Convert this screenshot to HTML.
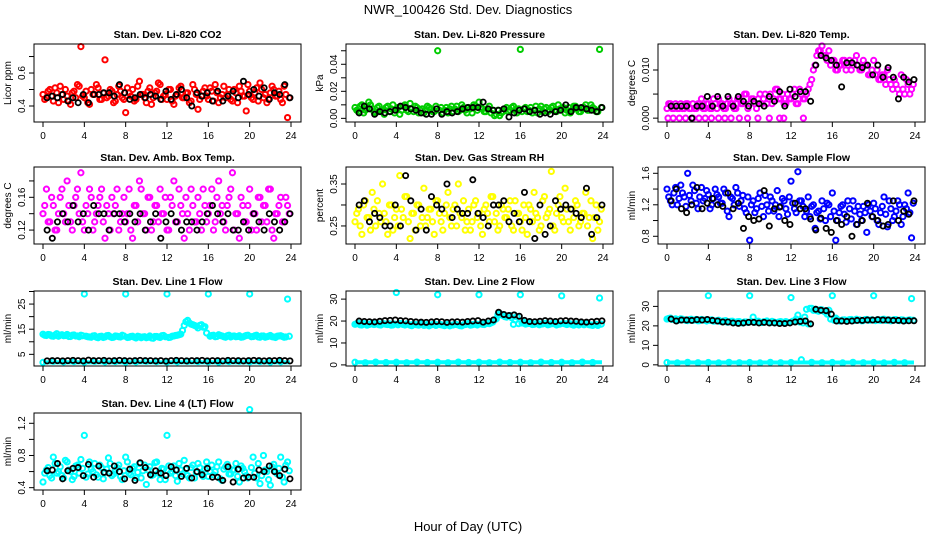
<!DOCTYPE html>
<html><head><meta charset="utf-8"><style>
html,body{margin:0;padding:0;background:#fff;width:936px;height:540px;overflow:hidden}
svg{display:block;font-family:"Liberation Sans",Arial,sans-serif}
</style></head><body>
<svg id="chart" width="936" height="540" viewBox="0 0 936 540">
<text x="468" y="14" text-anchor="middle" font-size="13">NWR_100426  Std. Dev. Diagnostics</text>
<text x="468" y="531" text-anchor="middle" font-size="13">Hour of Day (UTC)</text>
</svg>
<script>
const xTicks = [0,4,8,12,16,20,24];
const panelTitles = ["Stan. Dev. Li-820 CO2","Stan. Dev. Li-820 Pressure","Stan. Dev. Li-820 Temp.","Stan. Dev. Amb. Box Temp.","Stan. Dev. Gas Stream RH","Stan. Dev. Sample Flow","Stan. Dev. Line 1 Flow","Stan. Dev. Line 2 Flow","Stan. Dev. Line 3 Flow","Stan. Dev. Line 4 (LT) Flow"];
const yTitles = ["Licor ppm","kPa","degrees C","degrees C","percent","ml/min","ml/min","ml/min","ml/min","ml/min"];
const colors = ["#ff0000","#00cc00","#ff00ff","#ff00ff","#ffff00","#0000ff","#00ffff","#00ffff","#00ffff","#00ffff"];
const yLims = [[0.303,0.776],[-0.0027,0.055],[-0.0008,0.0154],[0.103,0.197],[0.207,0.3905],[0.702,1.68],[0.36,30.2],[-0.5,33.7],[-0.6,37.9],[0.371,1.328]];
const yTickVals = [[0.4,0.5,0.6,0.7],[0,0.01,0.02,0.03,0.04,0.05],[0,0.005,0.01],[0.12,0.14,0.16,0.18],[0.25,0.30,0.35],[0.8,1.0,1.2,1.4,1.6],[5,10,15,20,25,30],[0,10,20,30],[0,10,20,30],[0.4,0.6,0.8,1.0,1.2]];
const yTickLabels = [["0.4","","0.6",""],["0.00","","0.02","","0.04",""],["0.000","","0.010"],["0.12","","0.16",""],["0.25","","0.35"],["0.8","","1.2","","1.6"],["5","","15","","25",""],["0","10","20","30"],["0","10","20","30"],["0.4","","0.8","","1.2"]];

const co2Color = [0.47,0.45,0.50,0.43,0.48,0.52,0.44,0.46,0.41,0.49,0.53,0.76,0.45,0.42,0.50,0.47,0.51,0.44,0.68,0.46,0.49,0.43,0.52,0.45,0.36,0.48,0.50,0.44,0.55,0.47,0.42,0.51,0.45,0.49,0.53,0.46,0.44,0.50,0.41,0.47,0.52,0.45,0.48,0.43,0.50,0.38,0.46,0.51,0.44,0.49,0.53,0.42,0.47,0.45,0.50,0.43,0.48,0.52,0.46,0.37,0.49,0.44,0.51,0.54,0.45,0.42,0.48,0.50,0.46,0.44,0.52,0.33];
const co2ColorB = [0.44,0.49,0.46,0.51,0.42,0.47,0.50,0.43,0.48,0.45,0.52,0.46,0.49,0.41,0.47,0.53,0.44,0.48,0.45,0.50,0.42,0.47,0.49,0.44,0.51,0.46,0.43,0.52,0.47,0.45,0.49,0.41,0.48,0.54,0.44,0.47,0.50,0.43,0.46,0.51,0.45,0.48,0.42,0.53,0.47,0.44,0.49,0.46,0.51,0.43,0.48,0.45,0.52,0.47,0.44,0.50,0.42,0.49,0.46,0.53,0.45,0.48,0.43,0.50,0.47,0.44,0.52,0.46,0.49,0.42,0.47,0.45];
const co2Black = [0.45,0.46,0.45,0.47,0.43,0.45,0.42,0.47,0.42,0.47,0.47,0.48,0.48,0.46,0.53,0.48,0.44,0.45,0.47,0.45,0.47,0.46,0.44,0.49,0.44,0.47,0.50,0.45,0.40,0.48,0.46,0.48,0.43,0.49,0.43,0.46,0.49,0.45,0.55,0.47,0.50,0.46,0.51,0.44,0.48,0.47,0.53,0.45];
const presColor = [0.008,0.005,0.010,0.006,0.012,0.007,0.004,0.009,0.006,0.008,0.005,0.010,0.007,0.003,0.009,0.006,0.011,0.005,0.008,0.006,0.004,0.009,0.007,0.005,0.050,0.008,0.006,0.004,0.009,0.007,0.005,0.010,0.006,0.008,0.004,0.009,0.012,0.007,0.005,0.009,0.006,0.003,0.002,0.005,0.008,0.006,0.009,0.004,0.051,0.007,0.005,0.008,0.006,0.004,0.009,0.007,0.005,0.008,0.006,0.010,0.007,0.004,0.008,0.006,0.009,0.005,0.007,0.010,0.006,0.008,0.005,0.051];
const presColorB = [0.006,0.009,0.004,0.007,0.010,0.005,0.008,0.006,0.003,0.009,0.007,0.004,0.008,0.006,0.010,0.005,0.007,0.009,0.004,0.007,0.006,0.008,0.005,0.009,0.006,0.004,0.008,0.007,0.005,0.009,0.006,0.008,0.004,0.007,0.010,0.006,0.008,0.005,0.007,0.004,0.002,0.006,0.004,0.007,0.005,0.008,0.006,0.007,0.005,0.008,0.006,0.004,0.009,0.007,0.005,0.008,0.006,0.009,0.005,0.007,0.008,0.006,0.004,0.009,0.007,0.005,0.008,0.006,0.010,0.007,0.005,0.008];
const presBlack = [0.004,0.009,0.007,0.003,0.005,0.004,0.005,0.006,0.009,0.008,0.007,0.006,0.004,0.003,0.003,0.007,0.003,0.005,0.004,0.005,0.007,0.008,0.008,0.008,0.012,0.007,0.006,0.006,0.007,0.001,0.004,0.006,0.007,0.005,0.006,0.003,0.004,0.003,0.005,0.006,0.010,0.005,0.008,0.008,0.007,0.006,0.005,0.008];
const tempColor = [0.002,0.003,0.002,0.002,0.003,0.002,0.003,0.002,0.002,0.003,0.004,0.002,0.003,0.002,0.003,0.004,0.003,0.002,0.004,0.003,0.002,0.004,0.003,0.005,0.003,0.004,0.002,0.005,0.004,0.003,0.005,0.004,0.006,0.004,0.003,0.005,0.004,0.006,0.003,0.005,0.004,0.006,0.008,0.011,0.014,0.015,0.013,0.014,0.012,0.010,0.011,0.012,0.010,0.012,0.011,0.013,0.010,0.012,0.011,0.009,0.012,0.010,0.008,0.009,0.010,0.007,0.008,0.006,0.009,0.005,0.007,0.006];
const tempColorB = [0.003,0.002,0.003,0.002,0.002,0.003,0.002,0.003,0.002,0.003,0.002,0.003,0.002,0.004,0.002,0.003,0.002,0.003,0.003,0.002,0.004,0.003,0.005,0.002,0.004,0.003,0.004,0.003,0.005,0.004,0.003,0.006,0.004,0.005,0.003,0.004,0.005,0.003,0.006,0.004,0.005,0.007,0.010,0.013,0.014,0.013,0.012,0.011,0.012,0.010,0.011,0.012,0.011,0.010,0.012,0.011,0.010,0.011,0.009,0.010,0.009,0.008,0.009,0.007,0.008,0.006,0.007,0.005,0.006,0.008,0.005,0.007];
const tempZeroTimes = [0.1,0.6,1.2,1.8,2.5,3.1,3.7,4.3,5.0,5.6,6.2,7.0,7.8,8.8,9.9,10.9,11.3,13.2];
const tempBlack = [0.0025,0.0025,0.0025,0.0025,0,0.0025,0.0025,0.0045,0.0025,0.0045,0.0025,0.0045,0.0025,0.0045,0.0035,0.0025,0.0035,0.0030,0.0025,0.0045,0.0035,0.0055,0.0025,0.0060,0.0045,0.0055,0.0055,0.0035,0.0110,0.0130,0.0125,0.0120,0.0110,0.0065,0.0115,0.0115,0.0110,0.0105,0.0110,0.0090,0.0110,0.0085,0.0105,0.0085,0.0040,0.0085,0.0075,0.0080];
const ambColor = [0.14,0.17,0.13,0.15,0.12,0.16,0.14,0.18,0.13,0.15,0.17,0.19,0.12,0.14,0.16,0.13,0.15,0.17,0.11,0.14,0.16,0.15,0.12,0.14,0.13,0.17,0.11,0.15,0.18,0.14,0.12,0.16,0.13,0.15,0.17,0.14,0.12,0.16,0.18,0.13,0.15,0.11,0.14,0.17,0.13,0.16,0.12,0.15,0.14,0.17,0.13,0.18,0.15,0.12,0.16,0.19,0.14,0.11,0.15,0.13,0.17,0.14,0.12,0.16,0.15,0.13,0.17,0.11,0.14,0.16,0.13,0.15];
const ambColorB = [0.15,0.13,0.16,0.12,0.14,0.17,0.13,0.15,0.12,0.16,0.14,0.13,0.15,0.17,0.12,0.14,0.16,0.13,0.15,0.12,0.14,0.17,0.13,0.16,0.14,0.12,0.15,0.13,0.17,0.14,0.16,0.12,0.15,0.13,0.14,0.16,0.12,0.15,0.13,0.17,0.14,0.16,0.12,0.15,0.13,0.14,0.17,0.13,0.15,0.12,0.16,0.14,0.13,0.15,0.17,0.12,0.14,0.16,0.13,0.15,0.12,0.14,0.16,0.13,0.15,0.17,0.12,0.14,0.15,0.13,0.16,0.14];
const ambBlack = [0.12,0.11,0.13,0.14,0.13,0.15,0.13,0.14,0.12,0.15,0.14,0.14,0.12,0.14,0.14,0.13,0.14,0.13,0.14,0.12,0.13,0.14,0.11,0.13,0.14,0.13,0.12,0.13,0.13,0.12,0.13,0.14,0.15,0.14,0.13,0.14,0.12,0.12,0.13,0.12,0.14,0.13,0.12,0.14,0.13,0.12,0.13,0.14];
const rhColor = [0.26,0.29,0.23,0.31,0.27,0.33,0.25,0.28,0.35,0.26,0.30,0.24,0.29,0.37,0.27,0.32,0.22,0.28,0.30,0.25,0.34,0.27,0.29,0.23,0.31,0.26,0.28,0.33,0.25,0.30,0.35,0.27,0.24,0.29,0.26,0.31,0.28,0.23,0.30,0.26,0.32,0.28,0.25,0.29,0.27,0.31,0.24,0.28,0.26,0.30,0.23,0.29,0.33,0.27,0.25,0.32,0.28,0.38,0.24,0.30,0.27,0.34,0.26,0.29,0.31,0.25,0.28,0.33,0.27,0.22,0.30,0.26];
const rhColorB = [0.28,0.25,0.30,0.27,0.24,0.29,0.31,0.26,0.28,0.23,0.30,0.27,0.25,0.29,0.32,0.26,0.28,0.24,0.30,0.27,0.25,0.29,0.26,0.31,0.28,0.24,0.30,0.27,0.29,0.25,0.28,0.31,0.26,0.24,0.30,0.27,0.25,0.29,0.28,0.32,0.26,0.24,0.30,0.27,0.29,0.25,0.31,0.28,0.24,0.27,0.30,0.26,0.28,0.24,0.31,0.27,0.29,0.25,0.28,0.32,0.26,0.29,0.24,0.27,0.30,0.26,0.28,0.25,0.31,0.27,0.24,0.29];
const rhBlack = [0.30,0.31,0.26,0.28,0.27,0.25,0.25,0.30,0.25,0.37,0.31,0.24,0.29,0.24,0.32,0.30,0.29,0.35,0.27,0.29,0.28,0.28,0.36,0.28,0.27,0.25,0.30,0.30,0.31,0.26,0.28,0.26,0.33,0.26,0.22,0.30,0.23,0.25,0.31,0.29,0.30,0.29,0.28,0.27,0.34,0.23,0.27,0.30];
const sampColor = [1.40,1.25,1.35,1.20,1.45,1.30,1.60,1.25,1.38,1.15,1.42,1.28,1.33,1.20,1.40,1.30,1.22,1.35,1.05,1.28,1.42,1.18,1.32,1.10,0.75,1.25,1.15,1.35,1.05,1.20,1.30,1.12,1.38,1.18,1.25,1.08,1.50,1.15,1.62,1.25,1.05,1.30,1.18,0.90,1.12,1.25,1.00,1.20,1.35,0.75,1.10,1.20,0.98,1.15,1.25,0.95,1.08,1.18,0.85,1.12,1.22,1.00,1.10,1.30,0.92,1.15,1.05,1.25,0.95,1.20,1.35,0.78];
const sampColorB = [1.30,1.20,1.42,1.28,1.35,1.18,1.32,1.45,1.22,1.30,1.25,1.38,1.15,1.28,1.33,1.22,1.40,1.12,1.30,1.20,1.35,1.25,1.15,1.30,1.20,1.10,1.28,1.18,1.32,1.12,1.25,1.20,1.05,1.28,1.15,1.30,1.22,1.10,1.25,1.18,1.12,1.05,1.20,1.10,1.02,1.15,1.22,1.05,1.12,1.00,1.18,1.08,1.25,1.02,1.12,1.18,1.00,1.10,1.20,1.05,1.15,0.95,1.18,1.08,1.25,1.00,1.12,1.20,1.05,1.15,1.10,1.22];
const sampBlack = [1.25,1.40,1.15,1.10,1.20,1.42,1.15,1.22,1.28,1.20,1.18,1.35,1.15,1.22,0.90,1.05,1.00,1.02,1.38,0.93,1.15,1.17,1.00,0.95,1.22,1.15,1.15,1.02,0.88,1.03,0.90,0.85,1.00,0.95,1.05,0.80,0.95,1.00,1.22,1.05,1.00,0.93,0.95,1.25,1.00,1.12,1.08,1.25];
const line1Color = [13,12.5,12.8,12.2,13.2,12.6,12.4,12.9,12.1,12.7,12.3,12.6,29,12.0,11.8,12.4,11.6,12.2,11.9,12.5,11.7,12.3,12.0,12.6,29,11.8,12.2,11.5,12.0,11.9,11.6,12.3,11.4,12.1,11.7,12.5,29,11.8,12.3,12.6,13.0,16.5,18.5,17,16.5,15.5,16.8,16,29,12.5,12.0,12.8,12.3,11.8,12.6,12.2,12.0,12.4,11.9,12.5,29,12.1,12.6,11.8,12.3,12.0,12.5,11.9,12.2,12.4,11.8,27];
const line1ColorB = [12.6,12.9,12.3,12.7,12.2,12.8,12.5,12.1,12.6,12.3,12.0,12.4,12.2,11.9,12.3,11.8,12.1,11.7,12.4,12.0,11.8,12.2,11.9,12.3,11.7,12.1,11.8,12.2,11.6,12.0,11.8,11.5,12.1,11.9,12.4,12.0,11.7,12.2,12.5,12.8,14.5,18.0,17.5,16.8,16.2,16.5,15.8,13.5,12.2,12.6,12.1,12.5,12.0,12.4,11.9,12.3,12.1,11.8,12.2,12.6,12.0,12.4,11.9,12.3,11.8,12.2,12.0,11.7,12.3,12.1,11.9,12.2];
const line1Low = [1.8,2.2,2.0,2.1,1.9,2.2,2.0,2.1,1.9,2.0,2.2,2.1,1.9,2.0,2.2,2.1,2.0,1.9,2.1,2.2,2.0,2.1,1.9,2.0];
const line1Black = [2.4,2.5,2.5,2.4,2.5,2.6,2.5,2.4,2.7,2.5,2.5,2.6,2.4,2.5,2.6,2.5,2.4,2.5,2.6,2.5,2.5,2.4,2.5,2.3,2.5,2.6,2.5,2.4,2.5,2.5,2.6,2.4,2.5,2.5,2.4,2.6,2.5,2.5,2.4,2.5,2.6,2.5,2.4,2.5,2.5,2.6,2.5,2.4];
const line2Color = [18.5,19,18.2,18.8,18.4,19.1,18.6,18.3,18.9,18.5,18.7,18.2,33,18.9,18.4,18.7,18.1,18.6,18.3,18.8,18.0,18.5,18.2,18.7,32,18.3,17.9,18.5,18.1,18.6,18.2,17.8,18.4,18.9,18.3,18.7,32,18.5,19.0,18.8,19.5,21,23.5,22.5,21.8,22.5,18.5,22,32,19.5,18.8,19.2,18.5,19.0,18.6,18.9,18.3,18.8,19.1,18.5,31.5,18.7,19.0,18.4,18.8,18.2,18.6,18.9,18.3,18.0,18.5,30.5];
const line2ColorB = [18.8,18.3,18.9,18.1,18.6,18.4,18.9,18.2,18.7,18.4,18.1,18.6,18.3,18.8,18.2,18.5,17.9,18.4,18.1,18.6,18.2,17.8,18.4,18.0,18.5,18.1,18.3,17.8,18.2,18.4,17.9,18.3,18.6,18.1,18.5,18.2,18.7,18.4,18.9,19.2,20.5,23,22.8,22,22.3,21.5,20.5,18.8,19.1,18.6,18.9,18.4,18.8,18.3,18.7,19.0,18.5,18.8,18.2,18.6,18.9,18.4,18.7,18.1,18.5,18.8,18.3,18.6,18.2,18.4,18.0,18.6];
const line2Low = [1.2,1.0,1.3,1.1,1.2,1.0,1.3,1.1,1.2,1.0,1.3,1.1,1.2,1.0,1.3,1.1,1.2,1.0,1.3,1.1,1.2,1.0,1.3,1.1];
const line2Black = [20,19.8,19.7,19.6,19.9,20.2,20.3,20.5,20.2,20.1,19.8,19.6,19.5,19.4,19.6,19.8,19.7,19.4,19.6,19.7,19.5,19.8,20.0,20.2,19.5,20.0,20.5,24,23,22.5,22.8,22.2,20.3,19.8,19.7,19.9,20.2,20.0,19.8,20.1,20.2,20.0,19.9,19.6,19.5,19.7,19.9,20.1];
const line3Color = [23.5,24,23.2,22.8,23.6,23.1,22.7,23.4,23.0,22.6,23.3,22.9,35.5,23.1,22.5,22.9,22.3,22.7,22.0,22.4,21.8,22.2,21.5,22.0,35.5,24.5,22.3,21.8,22.1,22.5,21.6,22.0,21.7,22.2,21.5,21.8,34.5,22.5,25.5,22.8,24.5,21,29,28.5,27.5,28.2,27,28,35.5,24,22.5,23.0,22.6,23.2,22.8,23.4,23.0,22.7,23.3,22.9,35.5,23.1,22.8,23.4,23.0,22.6,23.2,22.8,23.1,22.7,22.9,34];
const line3ColorB = [23.8,23.3,23.6,23.0,23.4,22.8,23.2,22.9,23.3,22.7,23.0,22.5,22.8,22.4,22.7,22.2,22.5,21.9,22.3,21.7,22.1,21.6,22.0,21.8,22.2,21.9,22.4,21.7,22.1,21.8,22.3,21.6,22.0,21.9,22.2,21.7,22.4,23.5,22.0,21.5,28.5,29,28,27.8,28.3,27.5,26,23.5,22.9,23.2,22.7,23.1,22.9,23.3,22.8,23.0,22.6,23.2,22.9,23.1,22.7,23.0,23.3,22.8,23.1,22.9,23.2,22.7,23.0,22.8,23.1,22.9];
const line3Low = [1.2,1.0,1.3,1.1,1.2,1.0,1.3,1.1,1.2,1.0,1.3,1.1,1.2,2.6,1.3,1.1,1.2,1.0,1.3,1.1,1.2,1.0,1.3,1.1];
const line3Black = [23.5,22.5,23,23,22.8,23.2,23,23.3,22.8,22.5,22,22,21.5,21.3,21.5,21.8,21.8,21.5,21.8,21.5,21.5,21.2,21.2,21.5,22,22.3,22.5,21,28.5,28,27.8,26,22.5,22.5,22.3,22.5,22.8,22.8,23,23,23.2,23,23,22.8,22.8,22.5,22.6,22.6];
const line4Color = [0.47,0.62,0.55,0.78,0.58,0.66,0.52,0.72,0.60,0.54,0.68,0.75,1.05,0.57,0.63,0.70,0.53,0.65,0.59,0.77,0.55,0.62,0.68,0.50,0.78,0.58,0.64,0.52,0.70,0.61,0.44,0.66,0.56,0.72,0.50,0.63,1.05,0.58,0.67,0.48,0.62,0.74,0.55,0.65,0.52,0.70,0.58,0.63,0.54,0.68,0.60,0.72,0.49,0.66,0.57,0.62,0.70,0.47,0.64,0.55,1.37,0.78,0.52,0.45,0.80,0.60,0.43,0.69,0.57,0.78,0.47,0.72];
const line4ColorB = [0.58,0.65,0.52,0.70,0.60,0.55,0.74,0.62,0.50,0.67,0.58,0.64,0.53,0.72,0.60,0.56,0.68,0.51,0.63,0.70,0.57,0.65,0.54,0.61,0.72,0.56,0.66,0.59,0.52,0.68,0.62,0.55,0.71,0.58,0.64,0.50,0.67,0.60,0.55,0.70,0.57,0.63,0.52,0.68,0.59,0.65,0.54,0.72,0.60,0.56,0.66,0.51,0.63,0.69,0.57,0.62,0.54,0.67,0.60,0.52,0.65,0.58,0.70,0.55,0.62,0.50,0.66,0.59,0.64,0.53,0.68,0.61];
const line4Black = [0.61,0.62,0.70,0.51,0.61,0.64,0.65,0.55,0.69,0.53,0.67,0.59,0.58,0.67,0.60,0.51,0.63,0.49,0.71,0.65,0.56,0.61,0.58,0.55,0.66,0.62,0.54,0.64,0.52,0.60,0.56,0.64,0.53,0.53,0.49,0.66,0.47,0.63,0.52,0.53,0.53,0.62,0.60,0.67,0.60,0.55,0.63,0.51];

const colorSeries = [co2Color,presColor,tempColor,ambColor,rhColor,sampColor,line1Color,line2Color,line3Color,line4Color];
const colorSeriesB = [co2ColorB,presColorB,tempColorB,ambColorB,rhColorB,sampColorB,line1ColorB,line2ColorB,line3ColorB,line4ColorB];
const lowSeries = [null,null,null,null,null,null,line1Low,line2Low,line3Low,null];
const blackSeries = [co2Black,presBlack,tempBlack,ambBlack,rhBlack,sampBlack,line1Black,line2Black,line3Black,line4Black];

const NS = "http://www.w3.org/2000/svg";
const svg = document.getElementById("chart");
const rowTops = [44,167,291,413], rowBottoms = [122,244,366,490];
function mk(tag, attrs, parent){const e=document.createElementNS(NS,tag);for(const k in attrs)e.setAttribute(k,attrs[k]);parent.appendChild(e);return e;}

for(let p=0;p<10;p++){
  const c=p%3, r=Math.floor(p/3);
  const L=34+312*c, R=L+267, T=rowTops[r], B=rowBottoms[r];
  const [y0,y1]=yLims[p];
  const xs=t=>L+9+t*248/24;
  const ys=v=>B-(v-y0)/(y1-y0)*(B-T);
  const g=mk("g",{},svg);
  
  
  const title=mk("text",{x:(L+R)/2,y:T-6,"text-anchor":"middle","font-size":"10.5","font-weight":"bold"},g);
  title.textContent=panelTitles[p];
  
  
  const yt=mk("text",{transform:`translate(${L-23},${(T+B)/2}) rotate(-90)`,"text-anchor":"middle","font-size":"10"},g);
  yt.textContent=yTitles[p];
  
  
  const xa=mk("g",{},g);
  
  
  mk("line",{x1:xs(0),x2:xs(24),y1:B,y2:B,stroke:"#000"},xa);
  xTicks.forEach(t=>{
    mk("line",{x1:xs(t),x2:xs(t),y1:B,y2:B+5,stroke:"#000"},xa);
    const tl=mk("text",{x:xs(t),y:B+17,"text-anchor":"middle","font-size":"10"},xa);
    tl.textContent=t;
    
    
  });
  const ya=mk("g",{},g);
  
  
  yTickVals[p].forEach((v,i)=>{
    const y=ys(v);
    mk("line",{x1:L-5,x2:L,y1:y,y2:y,stroke:"#000"},ya);
    if(yTickLabels[p][i]){
      const tl=mk("text",{transform:`translate(${L-9},${y}) rotate(-90)`,"text-anchor":"middle","font-size":"10"},ya);
      tl.textContent=yTickLabels[p][i];
      
      
    }
  });
  const pts=mk("g",{},g);
  
  
  const col=colors[p];
  colorSeries[p].forEach((v,i)=>{
    const pt=mk("circle",{cx:xs(i/3),cy:ys(v),r:2.6,fill:"none",stroke:col,"stroke-width":2},pts);
    
    
  });
  colorSeriesB[p].forEach((v,i)=>{
    const pt=mk("circle",{cx:xs(i/3+1/6),cy:ys(v),r:2.6,fill:"none",stroke:col,"stroke-width":2},pts);
    
    
  });
  if(p===2){
    tempZeroTimes.forEach(t=>{
      const pt=mk("circle",{cx:xs(t),cy:ys(0),r:2.6,fill:"none",stroke:col,"stroke-width":2},pts);
      
      
    });
  }
  if(lowSeries[p]){
    lowSeries[p].forEach((v,i)=>{
      const pt=mk("circle",{cx:xs(i),cy:ys(v),r:2.6,fill:"none",stroke:col,"stroke-width":2},pts);
      
      
    });
    const band=mk("line",{x1:xs(0),x2:xs(23.9),y1:ys(lowSeries[p][0]),y2:ys(lowSeries[p][0]),stroke:col,"stroke-width":4},pts);
    
    
  }
  blackSeries[p].forEach((v,i)=>{
    const pt=mk("circle",{cx:xs(0.4+0.5*i),cy:ys(v),r:2.6,fill:"none",stroke:"#000","stroke-width":1.8},pts);
    
    
  });
  const box=mk("rect",{x:L,y:T,width:R-L,height:B-T,fill:"none",stroke:"#000"},g);
  
  
}
</script>
</body></html>
